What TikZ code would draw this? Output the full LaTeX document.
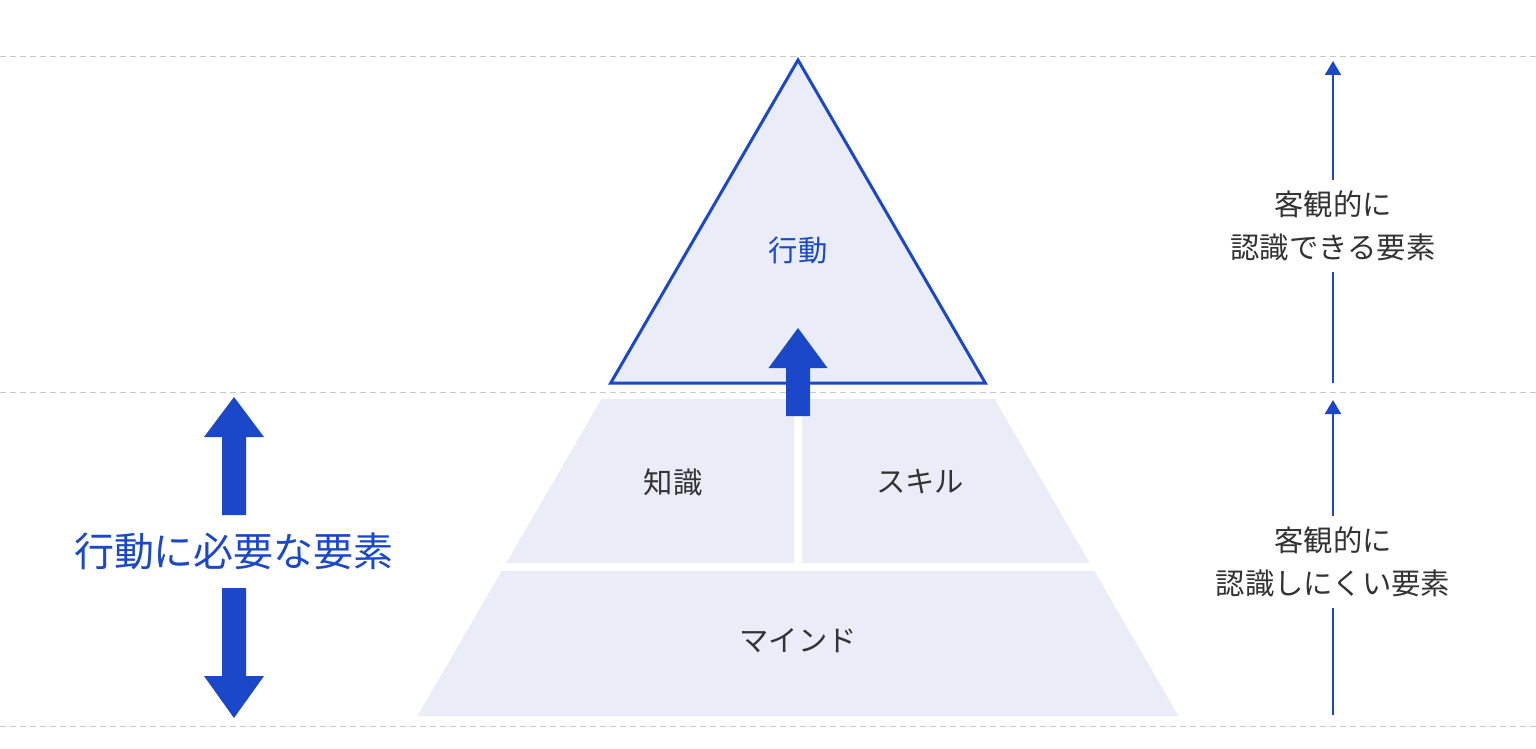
\documentclass[tikz,border=0pt]{standalone}
\usepackage{fontspec}
\setmainfont{Noto Sans CJK JP}
\usetikzlibrary{arrows.meta}

\definecolor{mainblue}{RGB}{26,72,200}
\definecolor{pyrfill}{RGB}{234,237,247}
\definecolor{textgray}{RGB}{51,51,51}
\definecolor{dashgray}{RGB}{200,200,200}

\tikzset{every picture/.style={line width=0.75pt}}
\tikzset{
  guide/.style={draw=dashgray, line width=0.75pt, dash pattern=on 4.5pt off 3pt},
  pyrtext/.style={text=textgray, font=\fontsize{22}{32}\selectfont, inner sep=0pt},
  sidetext/.style={text=textgray, font=\fontsize{22}{32.5}\selectfont, align=center, inner xsep=0pt, inner ysep=8pt},
  thinline/.style={draw=mainblue, line width=1.5pt},
  tipup/.style={-{Triangle[width=12pt,length=10.5pt]}},
}

\begin{document}
\begin{tikzpicture}[x=0.75pt,y=0.75pt,yscale=-1,xscale=1]
	\useasboundingbox (0,0) rectangle (1536,749);

	%Straight Lines: dashed guides
	\foreach \gy in {57,392,726}
		\draw[guide] (0,\gy) -- (1536,\gy);

	%Shape: lower trapezoid
	\fill[pyrfill] (501.6,571) -- (1094.4,571) -- (1178.5,716) -- (417.5,716) -- cycle;
	%Shape: middle left
	\fill[pyrfill] (601.4,399) -- (794,399) -- (794,563) -- (506.3,563) -- cycle;
	%Shape: middle right
	\fill[pyrfill] (802,399) -- (994.6,399) -- (1089.7,563) -- (802,563) -- cycle;
	%Shape: Triangle
	\draw[mainblue, line width=2.25pt, fill=pyrfill, line join=miter] (798,60) -- (985.3,383) -- (610.7,383) -- cycle;

	%Shape: center up arrow
	\fill[mainblue] (786,416) -- (786,368) -- (768.5,368) -- (798,328) -- (827.5,368) -- (810,368) -- (810,416) -- cycle;
	%Shape: left up arrow
	\fill[mainblue] (222,515) -- (222,437) -- (204,437) -- (234,397) -- (264,437) -- (246,437) -- (246,515) -- cycle;
	%Shape: left down arrow
	\fill[mainblue] (222,588) -- (222,676) -- (204,676) -- (234,718) -- (264,676) -- (246,676) -- (246,588) -- cycle;

	% Text Node
	\node[pyrtext, text=mainblue] (act) at (798,250) {行動};
	% Text Node
	\node[pyrtext] (know) at (673,482) {知識};
	% Text Node
	\node[pyrtext] (skill) at (920,482) {スキル};
	% Text Node
	\node[pyrtext] (mind) at (798,641) {マインド};
	% Text Node
	\node[pyrtext, text=mainblue, font=\fontsize{30}{36}\selectfont] (need) at (234,551) {行動に必要な要素};

	% Text Node
	\node[sidetext] (seen) at (1333,226) {客観的に\\認識できる要素};
	\coordinate (seenbase) at (1333,383);
	\coordinate (seentip) at (1333,61);
	\draw[thinline] (seenbase) -- (seen);
	\draw[thinline, tipup] (seen) -- (seentip);

	% Text Node
	\node[sidetext] (unseen) at (1333,562) {客観的に\\認識しにくい要素};
	\coordinate (unseenbase) at (1333,715);
	\coordinate (unseentip) at (1333,400);
	\draw[thinline] (unseenbase) -- (unseen);
	\draw[thinline, tipup] (unseen) -- (unseentip);

\end{tikzpicture}
\end{document}
